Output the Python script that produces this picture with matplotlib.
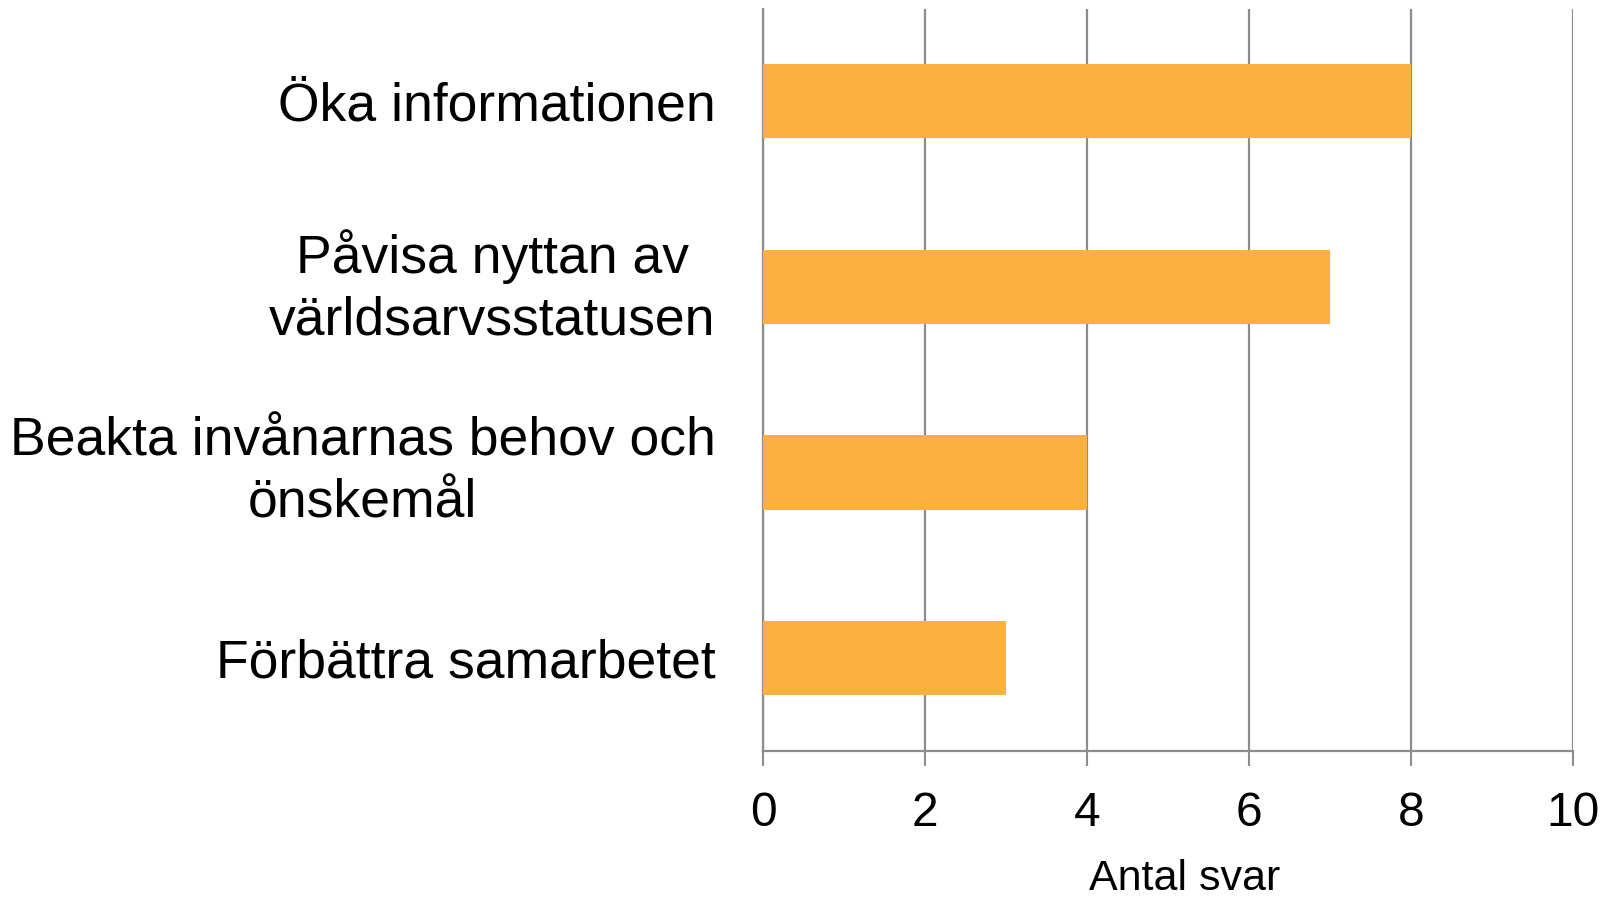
import matplotlib.pyplot as plt

# Data
categories = ['Öka informationen',
              'Påvisa nyttan av\nvärldsarvsstatusen',
              'Beakta invånarnas behov och\nönskemål',
              'Förbättra samarbetet']
values = [8, 7, 4, 3]
x_ticks = [0, 2, 4, 6, 8, 10]

bar_color = '#FBB040'
grid_color = '#8C8C8C'

plt.rcParams['font.family'] = ['Liberation Sans', 'DejaVu Sans']

fig = plt.figure(figsize=(16.07, 8.97), dpi=100)
ax = fig.add_axes([0.4748, 0.1628, 0.5040, 0.8277])

pos = list(range(len(categories)))[::-1]
ax.barh(pos, values, height=0.4, color=bar_color, zorder=3)

ax.set_xlim(0, 10)
ax.set_ylim(-0.5, 3.5)
ax.set_xticks(x_ticks)
ax.set_xticklabels([str(t) for t in x_ticks], fontsize=34.5)
ax.set_yticks(pos)
ax.set_yticklabels(categories, fontsize=38.5, multialignment='center', linespacing=1.3)
# two-line labels centred on the bar
for lbl in ax.get_yticklabels():
    if '\n' in lbl.get_text():
        lbl.set_verticalalignment('center')

ax.xaxis.grid(True, color=grid_color, linewidth=1.6, zorder=0)
ax.tick_params(axis='x', length=11, width=1.5, color=grid_color, pad=18)
ax.tick_params(axis='y', length=0, pad=34)

for s in ['top', 'right']:
    ax.spines[s].set_visible(False)
for s in ['left', 'bottom']:
    ax.spines[s].set_color(grid_color)
    ax.spines[s].set_linewidth(1.6)

ax.set_xlabel('Antal svar', fontsize=31)
ax.xaxis.set_label_coords(0.52, -0.146)

fig.savefig('out.png', dpi=100)
